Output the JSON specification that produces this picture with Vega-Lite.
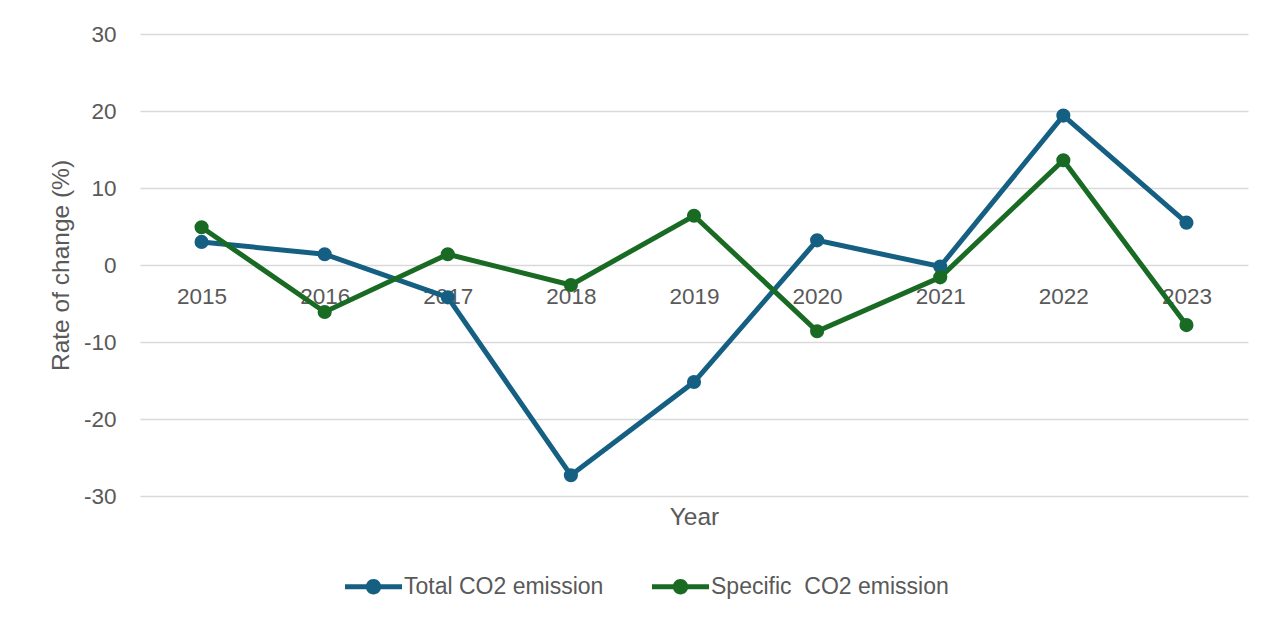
{
  "$schema": "https://vega.github.io/schema/vega-lite/v6.json",
  "width": 1108,
  "height": 462,
  "autosize": {"type": "none"},
  "padding": {"left": 140, "top": 34, "right": 26, "bottom": 128},
  "background": "white",
  "config": {
    "font": "Liberation Sans",
    "view": {"stroke": null},
    "axis": {"labelColor": "#595959", "titleColor": "#595959", "labelFontSize": 22.5, "titleFontSize": 24.5, "titleFontWeight": "normal", "labelFont": "Liberation Sans", "titleFont": "Liberation Sans"}
  },
  "data": {
    "values": [
      {"year": "2015", "series": "Total CO2 emission", "value": 3.0},
      {"year": "2016", "series": "Total CO2 emission", "value": 1.4},
      {"year": "2017", "series": "Total CO2 emission", "value": -4.2},
      {"year": "2018", "series": "Total CO2 emission", "value": -27.3},
      {"year": "2019", "series": "Total CO2 emission", "value": -15.2},
      {"year": "2020", "series": "Total CO2 emission", "value": 3.2},
      {"year": "2021", "series": "Total CO2 emission", "value": -0.2},
      {"year": "2022", "series": "Total CO2 emission", "value": 19.4},
      {"year": "2023", "series": "Total CO2 emission", "value": 5.5},
      {"year": "2015", "series": "Specific\u00a0 CO2 emission", "value": 4.9},
      {"year": "2016", "series": "Specific\u00a0 CO2 emission", "value": -6.1},
      {"year": "2017", "series": "Specific\u00a0 CO2 emission", "value": 1.4},
      {"year": "2018", "series": "Specific\u00a0 CO2 emission", "value": -2.6},
      {"year": "2019", "series": "Specific\u00a0 CO2 emission", "value": 6.4},
      {"year": "2020", "series": "Specific\u00a0 CO2 emission", "value": -8.6},
      {"year": "2021", "series": "Specific\u00a0 CO2 emission", "value": -1.6},
      {"year": "2022", "series": "Specific\u00a0 CO2 emission", "value": 13.6},
      {"year": "2023", "series": "Specific\u00a0 CO2 emission", "value": -7.8}
    ]
  },
  "encoding": {
    "x": {
      "field": "year", "type": "ordinal",
      "scale": {"type": "point", "padding": 0.5},
      "axis": {"title": "Year", "labelAngle": 0, "domain": false, "ticks": false, "grid": false, "offset": -231, "labelBaseline": "alphabetic", "labelPadding": 38, "titleBaseline": "alphabetic", "titleY": 259}
    },
    "y": {
      "field": "value", "type": "quantitative",
      "scale": {"domain": [-30, 30], "nice": false},
      "axis": {"title": "Rate of change (%)", "values": [-30, -20, -10, 0, 10, 20, 30], "labelExpr": "replace(datum.label, '\u2212', '-')", "domain": false, "ticks": false, "gridColor": "#d9d9d9", "gridWidth": 1.5, "labelPadding": 24, "titlePadding": 10}
    },
    "color": {
      "field": "series", "type": "nominal",
      "scale": {"domain": ["Total CO2 emission", "Specific\u00a0 CO2 emission"], "range": ["#156082", "#196B24"]},
      "legend": {
        "title": null, "orient": "none", "direction": "horizontal", "legendX": 205, "legendY": 524,
        "symbolType": "M-1,-0.09L1,-0.09L1,0.09L-1,0.09Z M0.27,0A0.27,0.27 0 1,1 -0.27,0A0.27,0.27 0 1,1 0.27,0Z",
        "symbolSize": 3249, "symbolStrokeWidth": 0, "labelFontSize": 23, "labelColor": "#595959", "labelFont": "Liberation Sans", "labelOffset": 2, "labelLimit": 500, "columnPadding": 48
      }
    }
  },
  "layer": [
    {"mark": {"type": "line", "strokeWidth": 5}},
    {"mark": {"type": "circle", "size": 200, "opacity": 1}}
  ]
}
